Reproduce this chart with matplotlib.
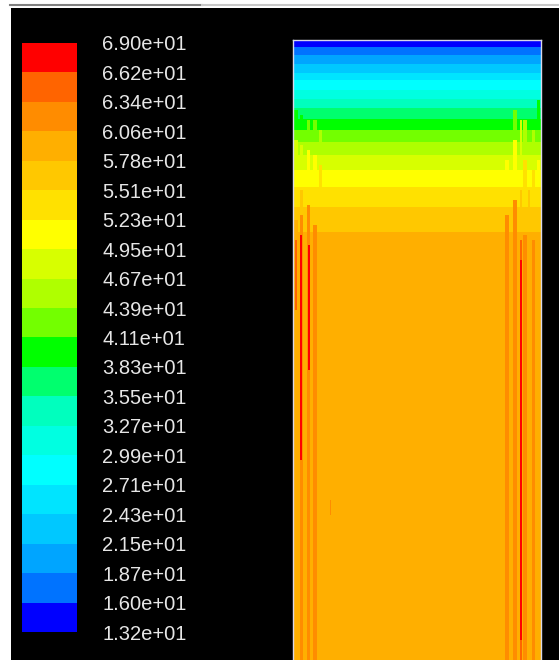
import numpy as np
import matplotlib.pyplot as plt
from matplotlib.colors import ListedColormap, BoundaryNorm
from matplotlib.cm import ScalarMappable
from matplotlib.patches import Rectangle
from matplotlib.lines import Line2D

plt.rcParams['font.family'] = ['Liberation Sans', 'DejaVu Sans']

# contour levels as printed on the legend (low -> high)
tick_labels = ["1.32e+01", "1.60e+01", "1.87e+01", "2.15e+01", "2.43e+01",
               "2.71e+01", "2.99e+01", "3.27e+01", "3.55e+01", "3.83e+01",
               "4.11e+01", "4.39e+01", "4.67e+01", "4.95e+01", "5.23e+01",
               "5.51e+01", "5.78e+01", "6.06e+01", "6.34e+01", "6.62e+01",
               "6.90e+01"]
levels = [float(s) for s in tick_labels]

# fluent banded rainbow, low -> high
band_colors = ["#0000ff", "#0073ff", "#00a5ff", "#00c8ff", "#00e4ff",
               "#00ffff", "#00ffe1", "#00ffbe", "#00ff6e", "#00ff00",
               "#73ff00", "#afff00", "#d7ff00", "#ffff00", "#ffe100",
               "#ffc800", "#ffaf00", "#ff8c00", "#ff6400", "#ff0000"]

# domain grid (cells)
nx, ny = 248, 620

# vertical profile: band edges (depth in cells from the top) and band values
row_edges = [0, 7, 15, 24, 33, 40, 50, 59, 68, 79, 90, 102, 115, 130, 147, 167, 192, 620]
row_values = [14.6, 17.4, 20.1, 22.9, 25.7, 28.5, 31.3, 34.1, 36.9, 39.7,
              42.5, 45.3, 48.1, 50.9, 53.7, 56.5, 59.2]

# near-wall streaks: (x from, x to, depth from, depth to, value)
wall_streaks = [
    # left wall
    (1, 5, 70, 620, 40.0), (1, 5, 100, 620, 47.0), (1, 5, 140, 620, 51.0),
    (1, 5, 180, 620, 59.0), (2, 4, 200, 270, 64.8),
    (7, 10, 75, 620, 40.0), (7, 10, 105, 620, 48.0), (7, 10, 150, 620, 56.5),
    (7, 10, 175, 620, 62.0), (7, 9, 195, 420, 67.6),
    (14, 17, 80, 620, 42.5), (14, 17, 110, 620, 51.0), (14, 17, 165, 620, 62.0),
    (15, 17, 205, 330, 67.6),
    (20, 24, 80, 620, 42.5), (20, 24, 115, 620, 51.0), (20, 24, 185, 620, 62.0),
    (26, 29, 90, 260, 45.3), (26, 29, 125, 260, 53.7),
    (37, 38, 460, 475, 62.0),
    # right wall
    (212, 216, 120, 620, 51.0), (212, 216, 175, 620, 62.0),
    (220, 224, 70, 620, 42.5), (220, 224, 100, 620, 51.0), (220, 224, 160, 620, 62.0),
    (225, 227, 190, 620, 56.5),
    (227, 229, 80, 620, 47.0), (227, 229, 150, 620, 56.5), (227, 229, 200, 620, 64.8),
    (227, 229, 220, 600, 67.6),
    (230, 234, 80, 620, 45.3), (230, 234, 120, 620, 53.7), (230, 234, 195, 620, 62.0),
    (235, 237, 150, 620, 56.5),
    (239, 242, 90, 620, 45.3), (239, 242, 130, 620, 53.7), (239, 242, 200, 620, 62.0),
    (244, 247, 60, 620, 39.7), (244, 247, 120, 620, 51.0),
]

field = np.zeros((ny, nx))
for top, bot, v in zip(row_edges[:-1], row_edges[1:], row_values):
    field[top:bot, :] = v
for x0, x1, d0, d1, v in wall_streaks:
    field[d0:d1, x0:x1] = np.maximum(field[d0:d1, x0:x1], v)

cmap = ListedColormap(band_colors)
norm = BoundaryNorm(levels, cmap.N)

W, H = 559, 660
fig = plt.figure(figsize=(W / 100, H / 100), dpi=100)
fig.patch.set_facecolor('white')

# window chrome: thin gray line and black graphics area
fig.add_artist(Line2D([10 / W, 202 / W], [1 - 4.5 / H] * 2, color='#808080', lw=1.5, zorder=-5))
fig.add_artist(Line2D([202 / W, 1], [1 - 4.5 / H] * 2, color='#c8c8c8', lw=1.5, zorder=-5))
fig.add_artist(Rectangle((11 / W, 0), 1 - 11 / W, 1 - 8 / H, transform=fig.transFigure,
                         facecolor='black', edgecolor='none', zorder=-10))

# contour domain
ax = fig.add_axes([293 / W, 0, 248 / W, 620 / H])
ax.imshow(field, cmap=cmap, norm=norm, extent=(0, nx, ny, 0),
          interpolation='nearest', aspect='auto')
ax.set_xticks([])
ax.set_yticks([])
for side in ['left', 'top', 'right']:
    ax.spines[side].set_color('#d8d8e8')
    ax.spines[side].set_linewidth(1.0)
ax.spines['bottom'].set_visible(False)

# legend
cax = fig.add_axes([22 / W, (H - 632) / H, 55 / W, 589 / H])
sm = ScalarMappable(norm=norm, cmap=cmap)
cb = fig.colorbar(sm, cax=cax, ticks=levels, spacing='uniform')
cb.ax.set_yticklabels(tick_labels)
cb.outline.set_visible(False)
cb.ax.tick_params(length=0, pad=18, labelcolor='#e6e6e6', labelsize=14.5)

fig.savefig('out.png', dpi=100, facecolor='white')
